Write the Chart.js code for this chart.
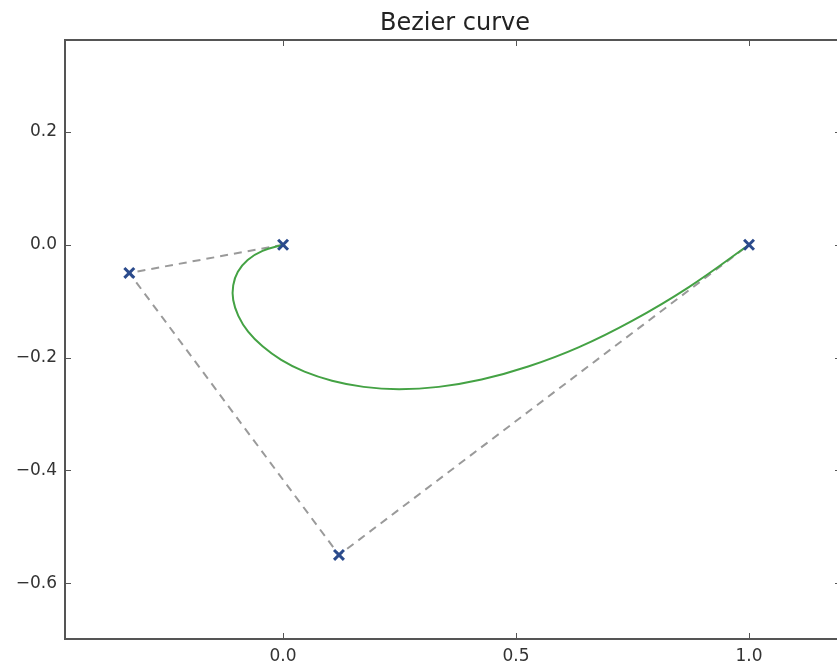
<!DOCTYPE html>
<html lang="en">
<head>
    <meta charset="UTF-8">
    <title>Bezier curve</title>
    <script src="https://cdn.jsdelivr.net/npm/chart.js"></script>
    <style>
        html, body { margin: 0; padding: 0; background: #fff; overflow: hidden; }
        #chart { display: block; }
    </style>
</head>
<body>
    <canvas id="chart" width="880" height="668"></canvas>

    <script>
        // control points
        const ctrlX = [0.0, -0.33, 0.12, 1.0];
        const ctrlY = [0.0, -0.05, -0.55, 0.0];

        // points
        const curveX = [0.0, -0.044, -0.076, -0.097, -0.107, -0.107, -0.096, -0.075, -0.044, -0.004, 0.046,
                        0.105, 0.173, 0.249, 0.334, 0.426, 0.526, 0.634, 0.749, 0.871, 1.0];
        const curveY = [0.0, -0.011, -0.027, -0.048, -0.072, -0.098, -0.126, -0.154, -0.180, -0.204, -0.225,
                        -0.241, -0.252, -0.256, -0.252, -0.239, -0.216, -0.182, -0.135, -0.075, 0.0];

        // tick labels
        const xTicks = [0.0, 0.5, 1.0];
        const yTicks = [-0.6, -0.4, -0.2, 0.0, 0.2];

        const xRange = [-0.468, 1.206];
        const yRange = [-0.699, 0.363];

        const pts = (xs, ys) => xs.map((x, i) => ({ x: x, y: ys[i] }));
        const fmt = v => (v < 0 ? '\u2212' : '') + Math.abs(v).toFixed(1);

        // box + inward ticks, matplotlib style
        const frame = {
            id: 'frame',
            afterDraw(chart) {
                const ctx = chart.ctx;
                const a = chart.chartArea;
                const xs = chart.scales.x, ys = chart.scales.y;
                ctx.save();
                ctx.strokeStyle = '#555';
                ctx.lineWidth = 1;
                ctx.beginPath();
                xTicks.forEach(v => {
                    const p = Math.round(xs.getPixelForValue(v)) + 0.5;
                    ctx.moveTo(p, a.bottom); ctx.lineTo(p, a.bottom - 6);
                    ctx.moveTo(p, a.top); ctx.lineTo(p, a.top + 6);
                });
                yTicks.forEach(v => {
                    const p = Math.round(ys.getPixelForValue(v)) + 0.5;
                    ctx.moveTo(a.left, p); ctx.lineTo(a.left + 6, p);
                    ctx.moveTo(a.right, p); ctx.lineTo(a.right - 10, p);
                });
                ctx.stroke();
                ctx.lineWidth = 2;
                ctx.strokeStyle = '#555';
                ctx.strokeRect(a.left, a.top, a.right - a.left, a.bottom - a.top);
                ctx.restore();
            }
        };

        new Chart(document.getElementById('chart'), {
            type: 'scatter',
            data: {
                datasets: [
                    {
                        data: pts(ctrlX, ctrlY),
                        showLine: true,
                        borderColor: '#9a9a9a',
                        borderWidth: 2,
                        borderDash: [8, 6],
                        pointRadius: 0,
                        tension: 0,
                        order: 3
                    },
                    {
                        data: pts(curveX, curveY),
                        showLine: true,
                        borderColor: '#44a244',
                        borderWidth: 2,
                        pointRadius: 0,
                        tension: 0.4,
                        order: 2
                    },
                    {
                        data: pts(ctrlX, ctrlY),
                        showLine: false,
                        pointStyle: 'crossRot',
                        pointRadius: 7,
                        pointBorderWidth: 3,
                        pointBorderColor: '#2b4b8c',
                        pointBackgroundColor: '#2b4b8c',
                        order: 1
                    }
                ]
            },
            options: {
                responsive: false,
                animation: false,
                layout: { padding: { left: 0, right: 35, top: 0, bottom: 0 } },
                plugins: {
                    legend: { display: false },
                    tooltip: { enabled: false },
                    title: {
                        display: true,
                        text: 'Bezier curve',
                        fullSize: false,
                        color: '#222',
                        font: { family: 'DejaVu Sans', size: 24, weight: 'normal', lineHeight: 1.2 },
                        padding: { top: 9, bottom: 2.2 }
                    }
                },
                scales: {
                    x: {
                        type: 'linear',
                        min: xRange[0],
                        max: xRange[1],
                        grid: { display: false, drawTicks: false },
                        border: { display: false },
                        afterBuildTicks: s => { s.ticks = xTicks.map(v => ({ value: v })); },
                        afterFit: s => { s.height = 29; },
                        ticks: {
                            padding: 7,
                            color: '#333',
                            font: { family: 'DejaVu Sans', size: 17 },
                            callback: v => fmt(v)
                        }
                    },
                    y: {
                        type: 'linear',
                        min: yRange[0],
                        max: yRange[1],
                        grid: { display: false, drawTicks: false },
                        border: { display: false },
                        afterBuildTicks: s => { s.ticks = yTicks.map(v => ({ value: v })); },
                        afterFit: s => { s.width = 65; },
                        ticks: {
                            padding: 8,
                            color: '#333',
                            font: { family: 'DejaVu Sans', size: 17 },
                            callback: v => fmt(v)
                        }
                    }
                }
            },
            plugins: [frame]
        });
    </script>
</body>
</html>
